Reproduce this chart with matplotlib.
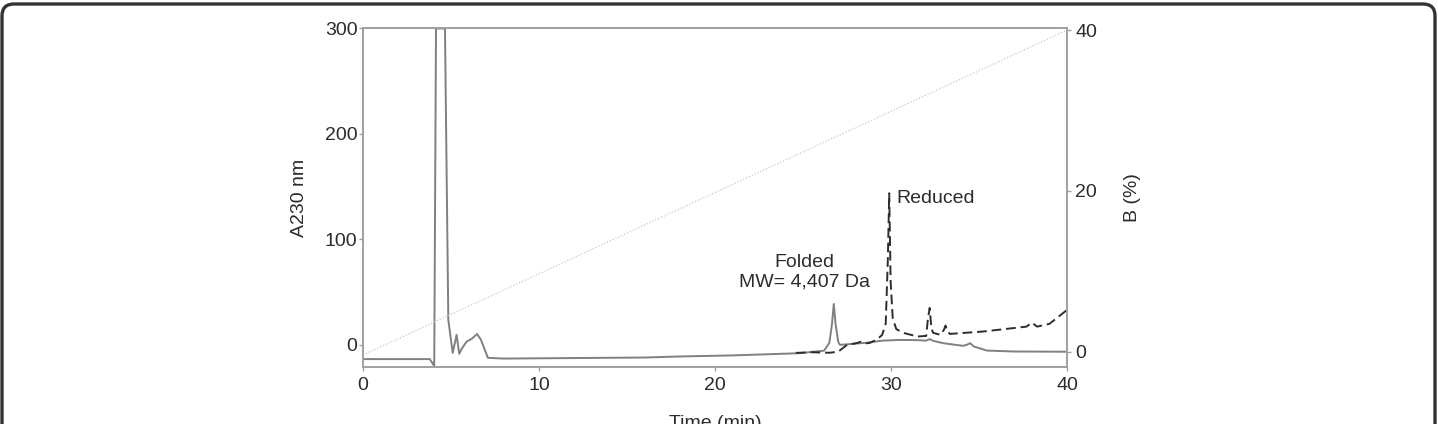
import numpy as np
import matplotlib.pyplot as plt
from matplotlib.patches import FancyBboxPatch
from matplotlib.transforms import IdentityTransform

plt.rcParams['font.family'] = ['Liberation Sans', 'DejaVu Sans']

# folded peptide trace (solid), A230 nm
solid_t = [0, 3.8, 4.05, 4.15, 4.66, 4.85, 5.1, 5.25, 5.32, 5.4, 5.47, 5.6, 5.89,
           6.2, 6.48, 6.7, 7.1, 8, 12, 16, 18, 21, 24.8, 26.2, 26.5, 26.65, 26.75,
           26.85, 27.0, 27.1, 28.6, 29.5, 30.5, 31.5, 32.0, 32.2, 32.4, 33.0, 34.1,
           34.3, 34.5, 34.7, 35.45, 37, 40]
solid_v = [-13.5, -13.5, -20, 300, 300, 23.7, -7.6, 4, 9.5, 0, -8.5, -4, 3.1,
           6, 10.4, 5, -12.3, -13, -12.5, -12, -11, -10, -7.9, -5.5, 2, 20, 38.8,
           20, 3, 0, 2, 4, 4.7, 4.5, 4, 5.5, 3.8, 1.5, -0.9,
           0, 1.6, -1.5, -5.4, -6.3, -6.5]

# reduced peptide trace (dashed)
dash_t = [24.6, 25.5, 26.5, 27.0, 27.5, 28.0, 28.3, 28.6, 28.8, 29.2, 29.5, 29.7,
          29.82, 29.9, 29.98, 30.1, 30.3, 30.7, 31.5, 32.0, 32.1, 32.2, 32.3, 32.4,
          32.8, 33.0, 33.1, 33.2, 33.35, 35.2, 37.7, 38.0, 38.3, 39.0, 40.0]
dash_v = [-7.6, -7, -7.5, -6.5, 0, 1.5, 3, 1.5, 1.9, 5, 9.5, 20,
          80, 143.8, 60, 25, 15, 11.4, 7.9, 8.5, 25, 35, 15, 11.4,
          9.5, 14, 18.3, 13, 10.4, 12.6, 17.3, 21.1, 17.3, 19.9, 33.1]

# gradient (% B)
grad_t = [0, 40]
grad_b = [-0.4, 40]

x_ticks = [0, 10, 20, 30, 40]
left_ticks = [0, 100, 200, 300]
right_ticks = [0, 20, 40]

fig = plt.figure(figsize=(14.38, 4.24), dpi=100)
ax = fig.add_axes([0.2524, 0.1344, 0.4896, 0.7984])
ax2 = ax.twinx()

spine_c = '#a0a0a0'
text_c = '#2b2b2b'

ax.plot(solid_t, solid_v, color='#808080', lw=1.4)
ax.plot(dash_t, dash_v, color='#2e2e2e', lw=1.4, dashes=(5, 2.5))
ax2.plot(grad_t, grad_b, color='#c8c8c8', lw=0.9, ls=(0, (1, 1.5)))

ax.set_xlim(0, 40)
ax.set_ylim(-21, 300)
ax2.set_ylim(-1.9, 40.2)
ax.set_xticks(x_ticks)
ax.set_yticks(left_ticks)
ax2.set_yticks(right_ticks)

for a in (ax, ax2):
    for s in a.spines.values():
        s.set_color(spine_c)
        s.set_linewidth(1.2)
    a.tick_params(colors=spine_c, labelcolor=text_c, labelsize=14, length=3, width=1)
ax.tick_params(axis='y', pad=1)
ax.tick_params(axis='x', pad=4)
ax2.tick_params(axis='y', pad=3)

ax.set_ylabel('A230 nm', fontsize=14, color=text_c, labelpad=12)
ax2.set_ylabel('B (%)', fontsize=14, color=text_c, labelpad=19)
ax.set_xlabel('Time (min)', fontsize=14, color=text_c, labelpad=15)

ax.text(30.3, 139, 'Reduced', fontsize=14, color=text_c, ha='left', va='center')
ax.text(25.1, 69, 'Folded\nMW= 4,407 Da', fontsize=14, color=text_c,
        ha='center', va='center', linespacing=1.15)

# rounded frame around the panel, open at the bottom edge
frame = FancyBboxPatch((14, -60), 1409, 468, boxstyle='round,pad=12,rounding_size=12',
                       transform=IdentityTransform(), fill=False, ec='#333333', lw=2.4)
fig.patches.append(frame)

fig.savefig('out.png', dpi=100)
